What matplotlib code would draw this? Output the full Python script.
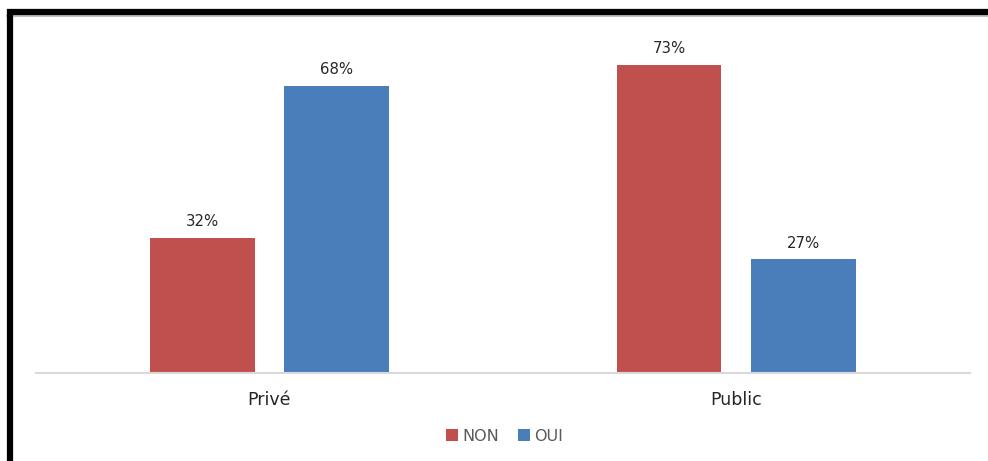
import numpy as np
import matplotlib
matplotlib.use("Agg")
import matplotlib.pyplot as plt
from matplotlib.lines import Line2D

plt.rcParams["font.family"] = ["DejaVu Sans"]

# Données
secteurs = ["Privé", "Public"]
non = [32, 73]
oui = [68, 27]

ROUGE = "#C0504D"
BLEU = "#4A7EBB"
TEXTE = "#262626"

fig = plt.figure(figsize=(9.88, 4.61), dpi=100)
ax = fig.add_axes([0.0364, 0.1909, 0.9453, 0.7289])

x = np.arange(len(secteurs))
largeur = 0.223
decal = 0.1435

b1 = ax.bar(x - decal, non, largeur, color=ROUGE, label="NON")
b2 = ax.bar(x + decal, oui, largeur, color=BLEU, label="OUI")

for barres in (b1, b2):
    for b in barres:
        ax.text(b.get_x() + b.get_width() / 2, b.get_height() + 2.0,
                f"{b.get_height():.0f}%", ha="center", va="bottom",
                fontsize=10.7, color=TEXTE)

ax.set_xlim(-0.5, 1.5)
ax.set_ylim(0, 79.6)
ax.set_xticks(x)
ax.set_xticklabels(secteurs, fontsize=12.5, color=TEXTE)
ax.tick_params(axis="x", length=0, pad=13)
ax.set_yticks([])
for s in ["top", "right", "left"]:
    ax.spines[s].set_visible(False)
ax.spines["bottom"].set_color("#D9D9D9")
ax.spines["bottom"].set_linewidth(1.5)

fig.legend(loc="center", bbox_to_anchor=(0.511, 0.054), ncol=2,
           frameon=False, fontsize=11.5, handlelength=0.7, handleheight=0.7,
           columnspacing=1.2, handletextpad=0.3, labelcolor="#595959")

# Cadre noir (haut et gauche) avec ombre grise
fig.add_artist(Line2D([7 / 988, 1], [1 - 16.5 / 461] * 2, color="#BFBFBF", lw=1.5,
                      transform=fig.transFigure))
fig.add_artist(Line2D([7 / 988, 1], [1 - 12 / 461] * 2, color="black", lw=4.5,
                      transform=fig.transFigure, solid_capstyle="butt"))
fig.add_artist(Line2D([10 / 988] * 2, [0, 1 - 9 / 461], color="black", lw=4.5,
                      transform=fig.transFigure, solid_capstyle="butt"))

fig.savefig("out.png", dpi=100, facecolor="white")
